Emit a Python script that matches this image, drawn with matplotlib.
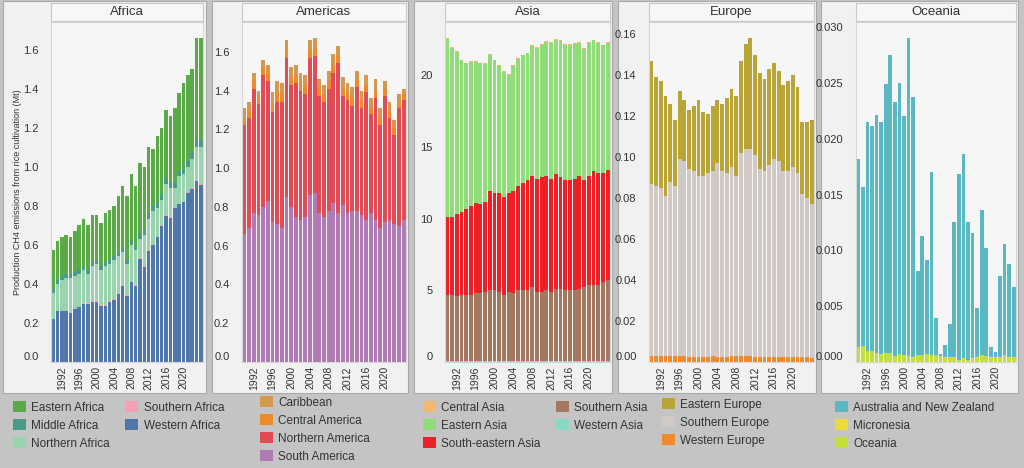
import matplotlib
matplotlib.use('Agg')
import numpy as np
import matplotlib.pyplot as plt
from matplotlib.patches import Rectangle

plt.rcParams['font.family'] = ['Liberation Sans', 'DejaVu Sans']

years = list(range(1990, 2025))

# Africa (Mt), segment values per year
eastern_africa = [0.20, 0.20, 0.20, 0.20, 0.19, 0.21, 0.23, 0.24, 0.23, 0.24, 0.23, 0.22, 0.25, 0.26, 0.26,
                  0.29, 0.32, 0.33, 0.34, 0.31, 0.36, 0.32, 0.34, 0.29, 0.34, 0.34, 0.35, 0.34, 0.38, 0.40,
                  0.44, 0.44, 0.43, 0.52, 0.52]
middle_africa = [0.02, 0.02, 0.02, 0.02, 0.02, 0.02, 0.02, 0.02, 0.02, 0.02, 0.02, 0.02, 0.02, 0.02, 0.02,
                 0.02, 0.02, 0.02, 0.02, 0.02, 0.03, 0.03, 0.03, 0.03, 0.03, 0.03, 0.03, 0.03, 0.03, 0.03,
                 0.03, 0.03, 0.03, 0.04, 0.04]
northern_africa = [0.13, 0.14, 0.16, 0.17, 0.18, 0.17, 0.17, 0.17, 0.15, 0.18, 0.19, 0.18, 0.20, 0.19, 0.20,
                   0.19, 0.17, 0.16, 0.19, 0.18, 0.10, 0.16, 0.16, 0.17, 0.15, 0.13, 0.16, 0.15, 0.10, 0.14,
                   0.14, 0.13, 0.15, 0.17, 0.19]
southern_africa = [0.003, 0.003, 0.003, 0.003, 0.003, 0.003, 0.003, 0.003, 0.003, 0.003, 0.003, 0.003, 0.003,
                   0.003, 0.003, 0.003, 0.003, 0.003, 0.003, 0.003, 0.003, 0.003, 0.003, 0.003, 0.003, 0.003,
                   0.003, 0.003, 0.003, 0.003, 0.003, 0.003, 0.003, 0.003, 0.003]
western_africa = [0.22, 0.26, 0.26, 0.26, 0.25, 0.27, 0.28, 0.30, 0.30, 0.31, 0.31, 0.29, 0.29, 0.31, 0.32,
                  0.35, 0.39, 0.34, 0.41, 0.39, 0.53, 0.49, 0.57, 0.60, 0.64, 0.70, 0.75, 0.74, 0.79, 0.81,
                  0.82, 0.87, 0.89, 0.93, 0.91]

# Americas
caribbean = [0.05, 0.04, 0.04, 0.04, 0.04, 0.04, 0.06, 0.06, 0.05, 0.05, 0.05, 0.05, 0.04, 0.05, 0.05,
             0.05, 0.05, 0.05, 0.05, 0.06, 0.05, 0.06, 0.05, 0.06, 0.04, 0.05, 0.05, 0.04, 0.06, 0.05,
             0.04, 0.04, 0.04, 0.04, 0.03]
central_america = [0.04, 0.04, 0.04, 0.03, 0.04, 0.04, 0.04, 0.05, 0.05, 0.04, 0.04, 0.04, 0.05, 0.05, 0.04,
                   0.04, 0.04, 0.04, 0.04, 0.04, 0.04, 0.04, 0.04, 0.04, 0.04, 0.04, 0.04, 0.04, 0.04, 0.04,
                   0.04, 0.04, 0.04, 0.03, 0.03]
northern_america = [0.56, 0.57, 0.64, 0.57, 0.68, 0.62, 0.57, 0.63, 0.65, 0.72, 0.63, 0.69, 0.67, 0.63, 0.71,
                    0.71, 0.60, 0.59, 0.63, 0.67, 0.77, 0.56, 0.58, 0.54, 0.64, 0.55, 0.66, 0.51, 0.63, 0.53,
                    0.65, 0.53, 0.46, 0.61, 0.62]
south_america = [0.66, 0.69, 0.77, 0.76, 0.80, 0.83, 0.72, 0.71, 0.69, 0.85, 0.80, 0.75, 0.73, 0.75, 0.86,
                 0.87, 0.77, 0.75, 0.78, 0.82, 0.77, 0.81, 0.77, 0.78, 0.78, 0.76, 0.73, 0.77, 0.73, 0.69,
                 0.72, 0.73, 0.71, 0.70, 0.73]

# Asia
central_asia = [0.05, 0.05, 0.05, 0.05, 0.05, 0.05, 0.05, 0.05, 0.05, 0.05, 0.05, 0.05, 0.05, 0.05, 0.05,
                0.05, 0.05, 0.05, 0.05, 0.05, 0.05, 0.05, 0.05, 0.05, 0.05, 0.05, 0.05, 0.05, 0.05, 0.05,
                0.05, 0.05, 0.05, 0.05, 0.05]
eastern_asia = [12.45, 11.85, 11.35, 10.55, 10.15, 10.05, 9.85, 9.85, 9.6, 9.55, 9.25, 8.85, 8.75, 8.25, 8.75,
                8.85, 8.9, 8.85, 9.05, 9.15, 9.25, 9.35, 9.45, 9.4, 9.5, 9.45, 9.45, 9.4, 9.25, 9.15,
                9.25, 9.15, 9.05, 8.9, 8.85]
south_eastern_asia = [5.4, 5.4, 5.7, 5.8, 6.0, 6.2, 6.3, 6.2, 6.3, 6.9, 6.8, 6.9, 6.8, 6.9, 7.1,
                      7.3, 7.5, 7.7, 7.8, 7.9, 8.0, 8.0, 7.9, 8.0, 7.8, 7.7, 7.7, 7.8, 7.9, 7.5,
                      7.6, 7.9, 7.8, 7.6, 7.7]
southern_asia = [4.65, 4.65, 4.55, 4.65, 4.65, 4.65, 4.75, 4.75, 4.85, 4.95, 4.95, 4.85, 4.65, 4.85, 4.75,
                 4.95, 4.95, 4.95, 5.15, 4.85, 4.85, 4.95, 4.85, 5.05, 5.05, 4.95, 4.95, 4.95, 5.05, 5.15,
                 5.35, 5.35, 5.35, 5.55, 5.65]
western_asia = [0.05, 0.05, 0.05, 0.05, 0.05, 0.05, 0.05, 0.05, 0.05, 0.05, 0.05, 0.05, 0.05, 0.05, 0.05,
                0.05, 0.05, 0.05, 0.05, 0.05, 0.05, 0.05, 0.05, 0.05, 0.05, 0.05, 0.05, 0.05, 0.05, 0.05,
                0.05, 0.05, 0.05, 0.05, 0.05]

# Europe
eastern_europe = [0.060, 0.053, 0.052, 0.049, 0.038, 0.032, 0.033, 0.030, 0.029, 0.032, 0.037, 0.031, 0.029,
                  0.032, 0.031, 0.033, 0.037, 0.038, 0.039, 0.045, 0.051, 0.054, 0.049, 0.047, 0.045, 0.047,
                  0.047, 0.044, 0.042, 0.044, 0.045, 0.042, 0.035, 0.037, 0.041]
southern_europe = [0.0840, 0.0830, 0.0820, 0.0780, 0.0850, 0.0830, 0.0960, 0.0950, 0.0915, 0.0905, 0.0885,
                   0.0885, 0.0895, 0.0903, 0.0945, 0.0905, 0.0895, 0.0922, 0.0880, 0.0990, 0.1010, 0.1010,
                   0.0985, 0.0915, 0.0905, 0.0935, 0.0967, 0.0957, 0.0905, 0.0907, 0.0927, 0.0897, 0.0798,
                   0.0778, 0.0750]
western_europe = [0.0030, 0.0030, 0.0030, 0.0030, 0.0030, 0.0030, 0.0030, 0.0030, 0.0025, 0.0025, 0.0025,
                  0.0025, 0.0025, 0.0027, 0.0025, 0.0025, 0.0025, 0.0028, 0.0030, 0.0030, 0.0030, 0.0030,
                  0.0025, 0.0025, 0.0025, 0.0025, 0.0023, 0.0023, 0.0025, 0.0023, 0.0023, 0.0023, 0.0022,
                  0.0022, 0.0020]

# Oceania
australia_nz = [0.0169, 0.0143, 0.0205, 0.0201, 0.0213, 0.0208, 0.0241, 0.0267, 0.0228, 0.0243, 0.0214,
                0.0285, 0.0233, 0.0075, 0.0107, 0.0084, 0.0164, 0.0033, 0.0002, 0.0011, 0.0030, 0.0121,
                0.0166, 0.0183, 0.0123, 0.0112, 0.0044, 0.0130, 0.0097, 0.0009, 0.0005, 0.0073, 0.0100,
                0.0084, 0.0063]
micronesia = [0.00002, 0.00002, 0.00002, 0.00002, 0.00002, 0.00002, 0.00002, 0.00002, 0.00002, 0.00002,
              0.00002, 0.00002, 0.00002, 0.00002, 0.00002, 0.00002, 0.00002, 0.00002, 0.00002, 0.00002,
              0.00002, 0.00002, 0.00002, 0.00002, 0.00002, 0.00002, 0.00002, 0.00002, 0.00002, 0.00002,
              0.00002, 0.00002, 0.00002, 0.00002, 0.00002]
oceania_sub = [0.0013, 0.0014, 0.0010, 0.0010, 0.0008, 0.0007, 0.0008, 0.0008, 0.0005, 0.0007, 0.0006,
               0.0005, 0.0004, 0.0006, 0.0006, 0.0007, 0.0006, 0.0006, 0.0005, 0.0004, 0.0004, 0.0004,
               0.0002, 0.0003, 0.0002, 0.0003, 0.0004, 0.0006, 0.0005, 0.0004, 0.0004, 0.0004, 0.0006,
               0.0004, 0.0004]

# legend order (top of stack first)
panels = [
    ('Africa', [('Eastern Africa', eastern_africa, '#5aab48'),
                ('Middle Africa', middle_africa, '#4a9a8a'),
                ('Northern Africa', northern_africa, '#99d4ae'),
                ('Southern Africa', southern_africa, '#f3a0b2'),
                ('Western Africa', western_africa, '#4f78a8')],
     [0, 0.2, 0.4, 0.6, 0.8, 1.0, 1.2, 1.4, 1.6], '{:.1f}', 2),
    ('Americas', [('Caribbean', caribbean, '#d4984f'),
                  ('Central America', central_america, '#ee8a2c'),
                  ('Northern America', northern_america, '#e14b56'),
                  ('South America', south_america, '#b07bb4')],
     [0, 0.2, 0.4, 0.6, 0.8, 1.0, 1.2, 1.4, 1.6], '{:.1f}', 1),
    ('Asia', [('Central Asia', central_asia, '#f2b872'),
              ('Eastern Asia', eastern_asia, '#8fdc78'),
              ('South-eastern Asia', south_eastern_asia, '#ec2128'),
              ('Southern Asia', southern_asia, '#a47760'),
              ('Western Asia', western_asia, '#88d8c6')],
     [0, 5, 10, 15, 20], '{:.0f}', 2),
    ('Europe', [('Eastern Europe', eastern_europe, '#b9a535'),
                ('Southern Europe', southern_europe, '#d0c9c5'),
                ('Western Europe', western_europe, '#f08a2e')],
     [0, 0.02, 0.04, 0.06, 0.08, 0.10, 0.12, 0.14, 0.16], '{:.2f}', 1),
    ('Oceania', [('Australia and New Zealand', australia_nz, '#5ab8c2'),
                 ('Micronesia', micronesia, '#ecdc3a'),
                 ('Oceania', oceania_sub, '#c2de3c')],
     [0, 0.005, 0.010, 0.015, 0.020, 0.025, 0.030], '{:.3f}', 1),
]

# pixel layout: outer panel box, plot area, legend anchor
boxes = [(3, 206), (212, 408), (414, 612), (618, 816), (821, 1018)]
plots = [(51, 203), (242, 406), (445, 610), (649, 814), (856, 1016)]
legend_x = [13, 260, 423, 662, 835]
legend_y = [401, 396, 401, 398, 401]

W, H = 1024, 468
fig = plt.figure(figsize=(W / 100, H / 100), dpi=100)
fig.patch.set_facecolor('#c4c4c4')

top, bottom = 22, 362
text_color = '#333333'

for i, (name, series, ticks, fmt, ncol) in enumerate(panels):
    bx0, bx1 = boxes[i]
    fig.add_artist(Rectangle((bx0 / W, 1 - 393 / H), (bx1 - bx0) / W, 392 / H,
                             transform=fig.transFigure, facecolor='#f1f1f1',
                             edgecolor='#a9a9a9', lw=0.8, zorder=0))
    px0, px1 = plots[i]
    # title strip
    fig.add_artist(Rectangle((px0 / W, 1 - 21 / H), (px1 - px0) / W, 18 / H,
                             transform=fig.transFigure, facecolor='#f7f7f7',
                             edgecolor='#c8c8c8', lw=0.8, zorder=1))
    fig.text((px0 + px1) / 2 / W, 1 - 12 / H, name, ha='center', va='center',
             fontsize=9.5, color=text_color)

    ax = fig.add_axes([px0 / W, 1 - bottom / H, (px1 - px0) / W, (bottom - top) / H])
    ax.set_facecolor('#f6f6f6')
    base = np.zeros(len(years))
    handles = []
    for label, vals, color in reversed(series):
        b = ax.bar(years, vals, bottom=base, width=0.8, color=color, linewidth=0, label=label)
        base = base + np.array(vals)
        handles.append(b)
    handles = handles[::-1]
    ax.set_xlim(1989.5, 2024.5)
    ax.set_ylim(0, base.max() * 1.05)
    ax.set_yticks(ticks)
    ax.set_yticklabels([fmt.format(t) for t in ticks])
    ax.get_yticklabels()[0].set_va('bottom')
    ax.set_xticks(range(1992, 2021, 4))
    ax.tick_params(axis='y', length=0, pad=9, labelsize=8, labelcolor=text_color)
    ax.tick_params(axis='x', length=0, pad=3, labelsize=7.5, labelcolor=text_color,
                   labelrotation=90)
    for s in ax.spines.values():
        s.set_color('#d6d6d6')
        s.set_linewidth(0.8)

    fig.legend(handles, [s[0] for s in series], loc='upper left',
               bbox_to_anchor=(legend_x[i] / W, 1 - legend_y[i] / H),
               ncol=ncol, frameon=False, fontsize=8.5, handlelength=1.1,
               handleheight=1.1, handletextpad=0.45, labelspacing=0.45,
               columnspacing=1.3, borderaxespad=0, borderpad=0,
               labelcolor=text_color)

    if i == 0:
        ax.set_ylabel('Production CH4 emissions from rice cultivation (Mt)',
                      fontsize=6.5, color=text_color, labelpad=1)

fig.savefig('out.png', dpi=100, facecolor=fig.get_facecolor())
